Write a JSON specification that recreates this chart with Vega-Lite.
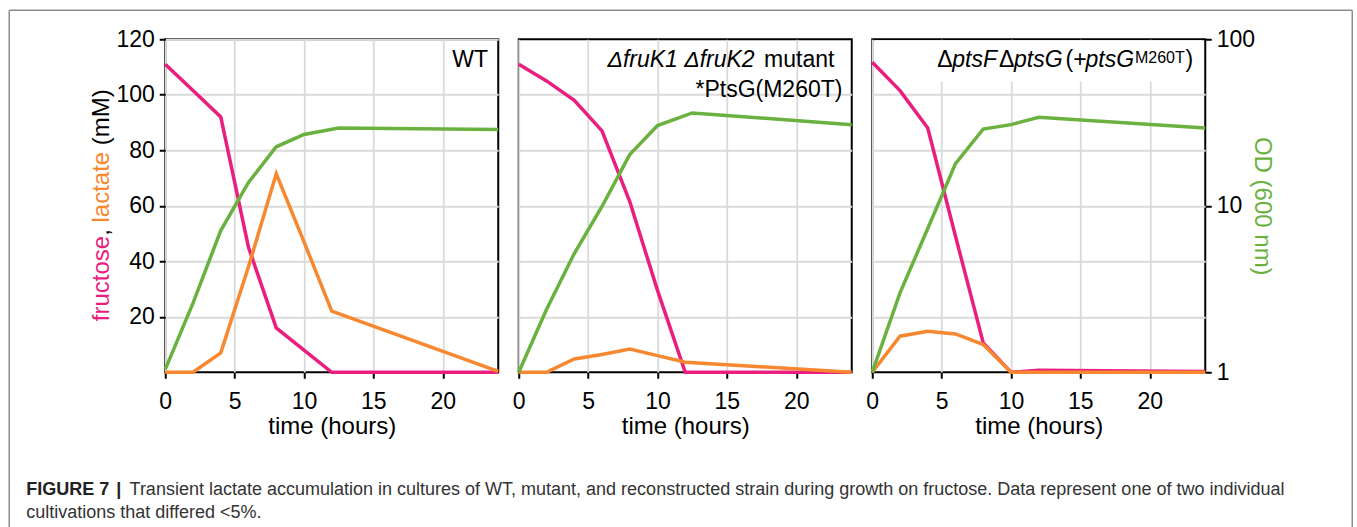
{
  "$schema": "https://vega.github.io/schema/vega-lite/v6.json",
  "background": "white",
  "padding": {"left": 7.25, "top": 8.25, "right": 5.25, "bottom": 0},
  "datasets": {
    "conc": [
      {"strain": "WT", "series": "fructose", "t": 0, "mM": 111},
      {"strain": "WT", "series": "fructose", "t": 2, "mM": 101.5},
      {"strain": "WT", "series": "fructose", "t": 4, "mM": 92},
      {"strain": "WT", "series": "fructose", "t": 6, "mM": 45},
      {"strain": "WT", "series": "fructose", "t": 8, "mM": 16},
      {"strain": "WT", "series": "fructose", "t": 10, "mM": 8},
      {"strain": "WT", "series": "fructose", "t": 12, "mM": 0},
      {"strain": "WT", "series": "fructose", "t": 24, "mM": 0},
      {"strain": "mutant", "series": "fructose", "t": 0, "mM": 111},
      {"strain": "mutant", "series": "fructose", "t": 2, "mM": 105},
      {"strain": "mutant", "series": "fructose", "t": 4, "mM": 98},
      {"strain": "mutant", "series": "fructose", "t": 6, "mM": 87},
      {"strain": "mutant", "series": "fructose", "t": 8, "mM": 61.5},
      {"strain": "mutant", "series": "fructose", "t": 10, "mM": 29.5},
      {"strain": "mutant", "series": "fructose", "t": 12, "mM": 0},
      {"strain": "mutant", "series": "fructose", "t": 24, "mM": 0},
      {"strain": "reconstructed", "series": "fructose", "t": 0, "mM": 111.7},
      {"strain": "reconstructed", "series": "fructose", "t": 2, "mM": 101.5},
      {"strain": "reconstructed", "series": "fructose", "t": 4, "mM": 88},
      {"strain": "reconstructed", "series": "fructose", "t": 6, "mM": 49},
      {"strain": "reconstructed", "series": "fructose", "t": 8, "mM": 10.6},
      {"strain": "reconstructed", "series": "fructose", "t": 10, "mM": 0},
      {"strain": "reconstructed", "series": "fructose", "t": 12, "mM": 0.7},
      {"strain": "reconstructed", "series": "fructose", "t": 24, "mM": 0.3},
      {"strain": "WT", "series": "lactate", "t": 0, "mM": 0},
      {"strain": "WT", "series": "lactate", "t": 2, "mM": 0},
      {"strain": "WT", "series": "lactate", "t": 4, "mM": 7},
      {"strain": "WT", "series": "lactate", "t": 6, "mM": 38},
      {"strain": "WT", "series": "lactate", "t": 8, "mM": 71.5},
      {"strain": "WT", "series": "lactate", "t": 10, "mM": 47},
      {"strain": "WT", "series": "lactate", "t": 12, "mM": 22},
      {"strain": "WT", "series": "lactate", "t": 24, "mM": 0.3},
      {"strain": "mutant", "series": "lactate", "t": 0, "mM": 0},
      {"strain": "mutant", "series": "lactate", "t": 2, "mM": 0},
      {"strain": "mutant", "series": "lactate", "t": 4, "mM": 4.8},
      {"strain": "mutant", "series": "lactate", "t": 6, "mM": 6.4},
      {"strain": "mutant", "series": "lactate", "t": 8, "mM": 8.4},
      {"strain": "mutant", "series": "lactate", "t": 10, "mM": 6},
      {"strain": "mutant", "series": "lactate", "t": 12, "mM": 3.6},
      {"strain": "mutant", "series": "lactate", "t": 24, "mM": 0},
      {"strain": "reconstructed", "series": "lactate", "t": 0, "mM": 0},
      {"strain": "reconstructed", "series": "lactate", "t": 2, "mM": 13},
      {"strain": "reconstructed", "series": "lactate", "t": 4, "mM": 14.8},
      {"strain": "reconstructed", "series": "lactate", "t": 6, "mM": 13.8},
      {"strain": "reconstructed", "series": "lactate", "t": 8, "mM": 10},
      {"strain": "reconstructed", "series": "lactate", "t": 10, "mM": 0},
      {"strain": "reconstructed", "series": "lactate", "t": 12, "mM": 0},
      {"strain": "reconstructed", "series": "lactate", "t": 24, "mM": 0}
    ],
    "od": [
      {"strain": "WT", "t": 0, "od": 1.04},
      {"strain": "WT", "t": 2, "od": 2.6},
      {"strain": "WT", "t": 4, "od": 7.1},
      {"strain": "WT", "t": 6, "od": 13.8},
      {"strain": "WT", "t": 8, "od": 22.6},
      {"strain": "WT", "t": 10, "od": 26.8},
      {"strain": "WT", "t": 12.5, "od": 29.3},
      {"strain": "WT", "t": 24, "od": 28.7},
      {"strain": "mutant", "t": 0, "od": 1.0},
      {"strain": "mutant", "t": 2, "od": 2.38},
      {"strain": "mutant", "t": 4, "od": 5.16},
      {"strain": "mutant", "t": 6, "od": 9.9},
      {"strain": "mutant", "t": 8, "od": 20.3},
      {"strain": "mutant", "t": 10, "od": 30.3},
      {"strain": "mutant", "t": 12.5, "od": 36.1},
      {"strain": "mutant", "t": 24, "od": 30.7},
      {"strain": "reconstructed", "t": 0, "od": 1.0},
      {"strain": "reconstructed", "t": 2, "od": 3.0},
      {"strain": "reconstructed", "t": 4, "od": 7.3},
      {"strain": "reconstructed", "t": 6, "od": 17.9},
      {"strain": "reconstructed", "t": 8, "od": 28.9},
      {"strain": "reconstructed", "t": 10, "od": 30.7},
      {"strain": "reconstructed", "t": 12, "od": 34},
      {"strain": "reconstructed", "t": 24, "od": 29.3}
    ]
  },
  "hconcat": [
    {
      "width": 333, "height": 333,
      "view": {"stroke": "black", "strokeWidth": 2},
      "resolve": {"scale": {"y": "independent"}},
      "layer": [
        {
          "layer": [
            {
              "data": {"name": "conc"},
              "transform": [{"filter": "datum.strain === 'WT'"}],
              "mark": {"type": "line", "strokeWidth": 3.5, "strokeJoin": "miter"},
              "encoding": {
                "x": {"field": "t", "type": "quantitative", "scale": {"domain": [0, 24], "nice": false, "zero": false},
                  "axis": {"values": [0, 5, 10, 15, 20], "grid": true, "domain": false, "title": "time (hours)", "labelPadding": 12, "titlePadding": 1, "labelFlush": false}},
                "y": {"field": "mM", "type": "quantitative", "scale": {"domain": [0, 120], "nice": false},
                  "axis": {"values": [20, 40, 60, 80, 100, 120], "grid": true, "domain": false, "title": null, "labelPadding": 5, "labelFlush": false}},
                "color": {"field": "series", "type": "nominal", "scale": {"domain": ["fructose", "lactate"], "range": ["#EA1E7E", "#F7882F"]}, "legend": null}
              }
            },
            {"data": {"values": [{}]}, "mark": {"type": "text", "text": "WT", "align": "right", "baseline": "alphabetic", "dx": -10.3, "dy": 28}, "encoding": {"x": {"datum": 24}, "y": {"datum": 120}}},
            {"data": {"values": [{}]}, "mark": {"type": "text", "text": "fructose", "angle": 270, "align": "left", "baseline": "alphabetic", "fontSize": 24, "color": "#EA1E7E", "dx": 51, "dy": -56}, "encoding": {"x": {"datum": 0}, "y": {"datum": 0}}},
            {"data": {"values": [{}]}, "mark": {"type": "text", "text": ",", "angle": 270, "align": "left", "baseline": "alphabetic", "fontSize": 24, "color": "black", "dx": 136.4, "dy": -56}, "encoding": {"x": {"datum": 0}, "y": {"datum": 0}}},
            {"data": {"values": [{}]}, "mark": {"type": "text", "text": "lactate", "angle": 270, "align": "left", "baseline": "alphabetic", "fontSize": 24, "color": "#F7882F", "dx": 149.7, "dy": -56}, "encoding": {"x": {"datum": 0}, "y": {"datum": 0}}},
            {"data": {"values": [{}]}, "mark": {"type": "text", "text": "(mM)", "angle": 270, "align": "left", "baseline": "alphabetic", "fontSize": 24, "color": "black", "dx": 227.1, "dy": -56}, "encoding": {"x": {"datum": 0}, "y": {"datum": 0}}},
            {"data": {"values": [{}]}, "mark": {"type": "rule", "color": "#8c8c8c", "strokeWidth": 1.5}, "encoding": {"x": {"datum": -11.243}, "x2": {"datum": 85.55}, "y": {"datum": 130.45}}},
            {"data": {"values": [{}]}, "mark": {"type": "rule", "color": "#8c8c8c", "strokeWidth": 1.5}, "encoding": {"x": {"datum": -11.243}, "y": {"datum": 130.45}, "y2": {"datum": -56.22}}},
            {"data": {"values": [{}]}, "mark": {"type": "rule", "color": "#8c8c8c", "strokeWidth": 1.5}, "encoding": {"x": {"datum": 85.55}, "y": {"datum": 130.45}, "y2": {"datum": -56.22}}},
            {"data": {"values": [{}]}, "mark": {"type": "text", "text": "FIGURE 7", "fontWeight": "bold", "fontSize": 18, "color": "#222222", "align": "left", "baseline": "alphabetic", "dx": -139, "dy": 123}, "encoding": {"x": {"datum": 0}, "y": {"datum": 0}}},
            {"data": {"values": [{}]}, "mark": {"type": "text", "text": "|", "fontWeight": "bold", "fontSize": 18, "color": "#222222", "align": "left", "baseline": "alphabetic", "dx": -49, "dy": 123}, "encoding": {"x": {"datum": 0}, "y": {"datum": 0}}},
            {"data": {"values": [{}]}, "mark": {"type": "text", "text": "Transient lactate accumulation in cultures of WT, mutant, and reconstructed strain during growth on fructose. Data represent one of two individual", "fontSize": 18, "color": "#333333", "align": "left", "baseline": "alphabetic", "dx": -35.7, "dy": 123}, "encoding": {"x": {"datum": 0}, "y": {"datum": 0}}},
            {"data": {"values": [{}]}, "mark": {"type": "text", "text": "cultivations that differed <5%.", "fontSize": 18, "color": "#333333", "align": "left", "baseline": "alphabetic", "dx": -139, "dy": 146}, "encoding": {"x": {"datum": 0}, "y": {"datum": 0}}}
          ]
        },
        {
          "data": {"name": "od"},
          "transform": [{"filter": "datum.strain === 'WT'"}],
          "mark": {"type": "line", "color": "#6AB13F", "strokeWidth": 3.5, "strokeJoin": "miter"},
          "encoding": {
            "x": {"field": "t", "type": "quantitative"},
            "y": {"field": "od", "type": "quantitative", "scale": {"type": "log", "domain": [1, 100]}, "axis": null}
          }
        }
      ]
    },
    {
      "width": 333, "height": 333,
      "view": {"stroke": "black", "strokeWidth": 2},
      "resolve": {"scale": {"y": "independent"}},
      "layer": [
        {
          "layer": [
            {
              "data": {"name": "conc"},
              "transform": [{"filter": "datum.strain === 'mutant'"}],
              "mark": {"type": "line", "strokeWidth": 3.5, "strokeJoin": "miter"},
              "encoding": {
                "x": {"field": "t", "type": "quantitative", "scale": {"domain": [0, 24], "nice": false, "zero": false},
                  "axis": {"values": [0, 5, 10, 15, 20], "grid": true, "domain": false, "title": "time (hours)", "labelPadding": 12, "titlePadding": 1, "labelFlush": false}},
                "y": {"field": "mM", "type": "quantitative", "scale": {"domain": [0, 120], "nice": false},
                  "axis": {"values": [20, 40, 60, 80, 100], "grid": true, "domain": false, "ticks": false, "labels": false, "title": null}},
                "color": {"field": "series", "type": "nominal", "scale": {"domain": ["fructose", "lactate"], "range": ["#EA1E7E", "#F7882F"]}, "legend": null}
              }
            },
            {"data": {"values": [{}]}, "mark": {"type": "text", "text": "ΔfruK1 ΔfruK2", "fontStyle": "italic", "align": "left", "baseline": "alphabetic", "dx": -244.3, "dy": 28}, "encoding": {"x": {"datum": 24}, "y": {"datum": 120}}},
            {"data": {"values": [{}]}, "mark": {"type": "text", "text": "mutant", "align": "left", "baseline": "alphabetic", "dx": -87.7, "dy": 28}, "encoding": {"x": {"datum": 24}, "y": {"datum": 120}}},
            {"data": {"values": [{}]}, "mark": {"type": "text", "text": "*PtsG(M260T)", "align": "right", "baseline": "alphabetic", "dx": -9.3, "dy": 57.5}, "encoding": {"x": {"datum": 24}, "y": {"datum": 120}}}
          ]
        },
        {
          "data": {"name": "od"},
          "transform": [{"filter": "datum.strain === 'mutant'"}],
          "mark": {"type": "line", "color": "#6AB13F", "strokeWidth": 3.5, "strokeJoin": "miter"},
          "encoding": {
            "x": {"field": "t", "type": "quantitative"},
            "y": {"field": "od", "type": "quantitative", "scale": {"type": "log", "domain": [1, 100]}, "axis": null}
          }
        }
      ]
    },
    {
      "width": 333, "height": 333,
      "view": {"stroke": "black", "strokeWidth": 2},
      "resolve": {"scale": {"y": "independent"}},
      "layer": [
        {
          "layer": [
            {"data": {"values": [{}]}, "mark": {"type": "rect", "color": "white"}, "encoding": {"x": {"datum": 0.2}, "x2": {"datum": 23.8}, "y": {"datum": 104.8}, "y2": {"datum": 119.6}}},
            {
              "data": {"name": "conc"},
              "transform": [{"filter": "datum.strain === 'reconstructed'"}],
              "mark": {"type": "line", "strokeWidth": 3.5, "strokeJoin": "miter"},
              "encoding": {
                "x": {"field": "t", "type": "quantitative", "scale": {"domain": [0, 24], "nice": false, "zero": false},
                  "axis": {"values": [0, 5, 10, 15, 20], "grid": true, "domain": false, "title": "time (hours)", "labelPadding": 12, "titlePadding": 1, "labelFlush": false}},
                "y": {"field": "mM", "type": "quantitative", "scale": {"domain": [0, 120], "nice": false},
                  "axis": {"values": [20, 40, 60, 80, 100], "grid": true, "domain": false, "ticks": false, "labels": false, "title": null}},
                "color": {"field": "series", "type": "nominal", "scale": {"domain": ["fructose", "lactate"], "range": ["#EA1E7E", "#F7882F"]}, "legend": null}
              }
            },
            {"data": {"values": [{}]}, "mark": {"type": "text", "text": "Δ", "align": "left", "baseline": "alphabetic", "dx": -268, "dy": 28}, "encoding": {"x": {"datum": 24}, "y": {"datum": 120}}},
            {"data": {"values": [{}]}, "mark": {"type": "text", "text": "ptsF", "fontStyle": "italic", "align": "left", "baseline": "alphabetic", "dx": -253, "dy": 28}, "encoding": {"x": {"datum": 24}, "y": {"datum": 120}}},
            {"data": {"values": [{}]}, "mark": {"type": "text", "text": "Δ", "align": "left", "baseline": "alphabetic", "dx": -206.3, "dy": 28}, "encoding": {"x": {"datum": 24}, "y": {"datum": 120}}},
            {"data": {"values": [{}]}, "mark": {"type": "text", "text": "ptsG", "fontStyle": "italic", "align": "left", "baseline": "alphabetic", "dx": -191.3, "dy": 28}, "encoding": {"x": {"datum": 24}, "y": {"datum": 120}}},
            {"data": {"values": [{}]}, "mark": {"type": "text", "text": "(+", "align": "left", "baseline": "alphabetic", "dx": -139.7, "dy": 28}, "encoding": {"x": {"datum": 24}, "y": {"datum": 120}}},
            {"data": {"values": [{}]}, "mark": {"type": "text", "text": "ptsG", "fontStyle": "italic", "align": "left", "baseline": "alphabetic", "dx": -119.7, "dy": 28}, "encoding": {"x": {"datum": 24}, "y": {"datum": 120}}},
            {"data": {"values": [{}]}, "mark": {"type": "text", "text": "M260T", "fontSize": 16, "align": "left", "baseline": "alphabetic", "dx": -70.3, "dy": 23.5}, "encoding": {"x": {"datum": 24}, "y": {"datum": 120}}},
            {"data": {"values": [{}]}, "mark": {"type": "text", "text": ")", "align": "left", "baseline": "alphabetic", "dx": -19.7, "dy": 28}, "encoding": {"x": {"datum": 24}, "y": {"datum": 120}}}
          ]
        },
        {
          "data": {"name": "od"},
          "transform": [{"filter": "datum.strain === 'reconstructed'"}],
          "mark": {"type": "line", "color": "#6AB13F", "strokeWidth": 3.5, "strokeJoin": "miter"},
          "encoding": {
            "x": {"field": "t", "type": "quantitative"},
            "y": {"field": "od", "type": "quantitative", "scale": {"type": "log", "domain": [1, 100]},
              "axis": {"orient": "right", "values": [1, 10, 100], "format": "d", "grid": false, "domain": false, "title": "OD (600 nm)", "titleColor": "#6AB13F", "titlePadding": -5, "labelPadding": 5, "labelFlush": false}}
          }
        }
      ]
    }
  ],
  "spacing": 20.5,
  "bounds": "flush",
  "config": {
    "font": "Liberation Sans",
    "view": {"stroke": null},
    "axis": {
      "labelFont": "Liberation Sans", "titleFont": "Liberation Sans",
      "labelFontSize": 23, "titleFontSize": 24, "titleFontWeight": "normal",
      "labelColor": "black", "titleColor": "black",
      "tickColor": "black", "tickWidth": 2, "tickSize": 6,
      "domainColor": "black", "domainWidth": 2,
      "gridColor": "#dadada", "gridWidth": 1.8
    },
    "text": {"font": "Liberation Sans", "fontSize": 23, "color": "black"}
  }
}
